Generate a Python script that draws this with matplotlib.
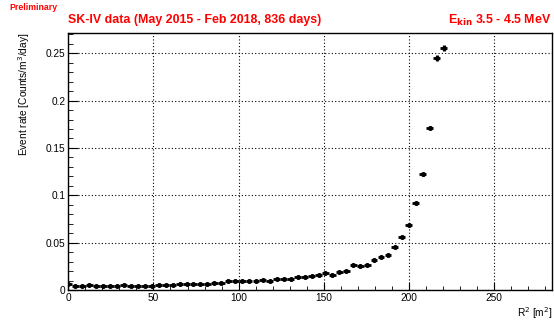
import matplotlib
matplotlib.use("Agg")
import matplotlib.pyplot as plt
from matplotlib.ticker import MultipleLocator

plt.rcParams['font.family'] = ['Liberation Sans', 'DejaVu Sans']

# R^2 bin centres [m^2] and event rate [counts/m^3/day]
r2 = [0.0, 4.1, 8.2, 12.2, 16.3, 20.4, 24.5, 28.6, 32.6, 36.7,
      40.8, 44.9, 49.0, 53.0, 57.1, 61.2, 65.3, 69.4, 73.4, 77.5,
      81.6, 85.7, 89.8, 93.8, 97.9, 102.0, 106.1, 110.2, 114.2, 118.3,
      122.4, 126.5, 130.6, 134.6, 138.7, 142.8, 146.9, 151.0, 155.0, 159.1,
      163.2, 167.3, 171.4, 175.4, 179.5, 183.6, 187.7, 191.8, 195.8, 199.9,
      204.0, 208.1, 212.2, 216.2, 220.3]
rate = [0.0058, 0.0040, 0.0038, 0.0048, 0.0045, 0.0040, 0.0040, 0.0040, 0.0055, 0.0047,
        0.0045, 0.0047, 0.0042, 0.0052, 0.0054, 0.0054, 0.0062, 0.0058, 0.0060, 0.0066,
        0.0062, 0.0070, 0.0078, 0.0092, 0.0094, 0.0094, 0.0094, 0.0096, 0.0104, 0.0100,
        0.0114, 0.0116, 0.0120, 0.0132, 0.0140, 0.0147, 0.0162, 0.0176, 0.0160, 0.0190,
        0.0204, 0.0264, 0.0250, 0.0267, 0.0313, 0.0352, 0.0373, 0.0450, 0.0563, 0.0686,
        0.0922, 0.1222, 0.1714, 0.2447, 0.2552]
rate_err = [0.0004, 0.0003, 0.0003, 0.0003, 0.0003, 0.0003, 0.0003, 0.0003, 0.0003, 0.0003,
            0.0003, 0.0003, 0.0003, 0.0003, 0.0003, 0.0003, 0.0003, 0.0003, 0.0003, 0.0003,
            0.0003, 0.0003, 0.0003, 0.0004, 0.0004, 0.0004, 0.0004, 0.0004, 0.0004, 0.0004,
            0.0004, 0.0004, 0.0004, 0.0004, 0.0004, 0.0005, 0.0005, 0.0005, 0.0005, 0.0005,
            0.0005, 0.0006, 0.0006, 0.0006, 0.0006, 0.0007, 0.0007, 0.0008, 0.0009, 0.0010,
            0.0012, 0.0014, 0.0017, 0.0030, 0.0032]
bin_half = 2.04

fig = plt.figure(figsize=(5.54, 3.2), dpi=100)
ax = fig.add_axes([0.1233, 0.0938, 0.8731, 0.804])

ax.errorbar(r2, rate, xerr=bin_half, yerr=rate_err, fmt='o', color='black',
            ms=2.6, elinewidth=2.0, capsize=0, zorder=3)

ax.set_xlim(0, 284)
ax.set_ylim(0, 0.2717)
ax.xaxis.set_major_locator(MultipleLocator(50))
ax.xaxis.set_minor_locator(MultipleLocator(10))
ax.yaxis.set_major_locator(MultipleLocator(0.05))
ax.yaxis.set_minor_locator(MultipleLocator(0.01))
ax.set_yticks([0, 0.05, 0.1, 0.15, 0.2, 0.25])
ax.set_yticklabels(['0', '0.05', '0.1', '0.15', '0.2', '0.25'])

ax.tick_params(which='both', direction='in', top=False, right=False,
               labelsize=7.3, colors='black', pad=2)
ax.tick_params(axis='y', which='major', length=7)
ax.tick_params(axis='y', which='minor', length=3.5)
ax.tick_params(axis='x', which='major', length=6)
ax.tick_params(axis='x', which='minor', length=3)
ax.grid(True, which='major', linestyle=(0, (1, 2)), color='black', linewidth=0.8)
for s in ax.spines.values():
    s.set_linewidth(1.0)

ax.set_ylabel('Event rate [Counts/m$^3$/day]', fontsize=7.3)
ax.yaxis.set_label_coords(-0.075, 1.0)
ax.yaxis.label.set_ha('right')
ax.set_xlabel('R$^2$ [m$^2$]', fontsize=7.3)
ax.xaxis.set_label_coords(1.0, -0.06)
ax.xaxis.label.set_ha('right')

fig.text(9 / 554, 1 - 7 / 320, 'Preliminary', color='red', fontweight='bold',
         fontsize=6.3, ha='left', va='center')
fig.text(68 / 554, 1 - 20 / 320, 'SK-IV data (May 2015 - Feb 2018, 836 days)',
         color='red', fontweight='bold', fontsize=8.9, ha='left', va='center')
fig.text(551 / 554, 1 - 20 / 320, r'E$_{\mathbf{kin}}$ 3.5 - 4.5 MeV',
         color='red', fontweight='bold', fontsize=8.9, ha='right', va='center')

fig.savefig('out.png', dpi=100)
